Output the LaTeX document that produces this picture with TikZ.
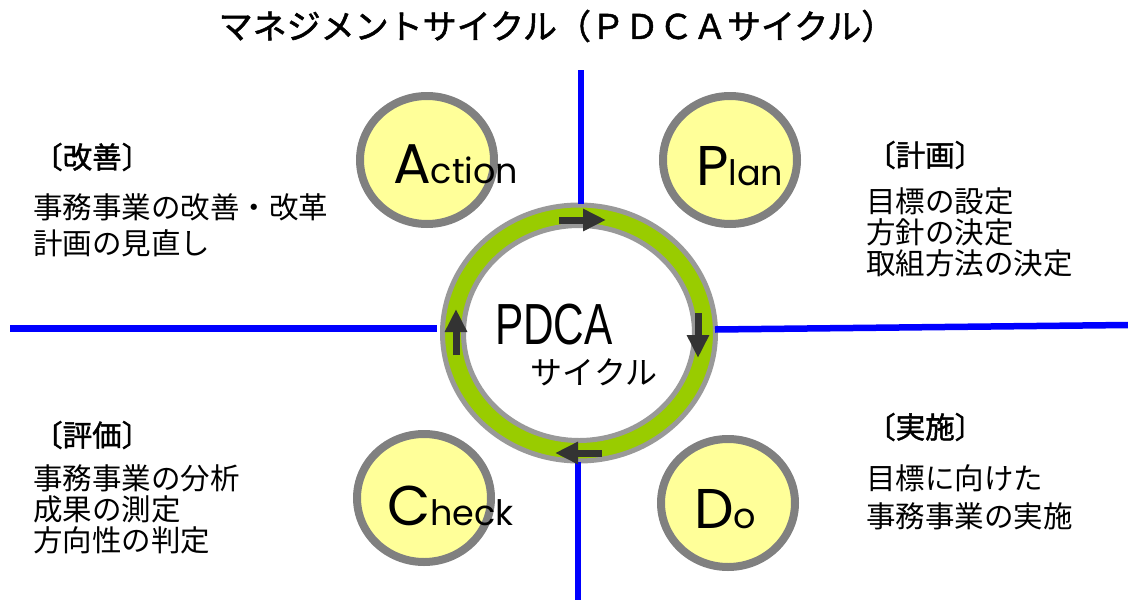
\documentclass[tikz,border=0pt]{standalone}
\usepackage{fontspec}
\setmainfont{Noto Sans CJK JP}
\newfontfamily\cjk{Noto Sans CJK JP}
\newfontfamily\cjkb[FakeBold=1.5]{Noto Sans CJK JP}
\newfontfamily\geo{Poppins}
\newfontfamily\lat{Liberation Sans}
\usetikzlibrary{shapes.geometric,arrows.meta}
\definecolor{ringgreen}{HTML}{99CC00}
\definecolor{ringgray}{HTML}{999999}
\definecolor{circgray}{HTML}{808080}
\definecolor{circfill}{HTML}{FFFF99}
\definecolor{arrgray}{HTML}{333333}
\definecolor{axisblue}{HTML}{0000FF}
\tikzset{
  phase/.style={ellipse, draw=circgray, line width=8pt, fill=circfill,
    minimum width=134pt, minimum height=128pt, inner sep=0pt},
  axisline/.style={draw=axisblue, line width=6.5pt},
  txt/.style={anchor=west, inner sep=0pt, font=\cjk\fontsize{29.5}{29.5}\selectfont},
  headtxt/.style={anchor=west, inner sep=0pt, font=\cjkb\fontsize{29.5}{29.5}\selectfont},
  word/.style={anchor=base west, inner sep=0pt, font=\geo},
  ringarrow/.style={draw=arrgray, line width=7pt, -{Triangle[length=23pt,width=21pt]}},
}
\newcommand{\BigLetter}[1]{{\fontsize{56}{56}\selectfont #1}}
\newcommand{\SmallPart}[1]{{\fontsize{35}{35}\selectfont #1}}
\begin{document}
\begin{tikzpicture}[x=1pt,y=-1pt]
\useasboundingbox (0,0) rectangle (1128,600);
% title
\node[inner sep=0pt, font=\cjkb\fontsize{34}{34}\selectfont] (title) at (557,26) {マネジメントサイクル（ＰＤＣＡサイクル）};
% central ring
\node[ellipse, draw=ringgray, line width=5pt, fill=ringgreen, minimum width=273pt, minimum height=256pt, inner sep=0pt] (ring) at (579,333) {};
\node[ellipse, draw=ringgray, line width=5pt, fill=white, minimum width=231pt, minimum height=215pt, inner sep=0pt] (hub) at (579,333) {};
% axes
\coordinate (topend) at (581,70);
\coordinate (topin) at (581,204);
\coordinate (botin) at (578,462);
\coordinate (botend) at (578,600);
\coordinate (leftend) at (10,328.5);
\coordinate (leftin) at (437,328.5);
\coordinate (rightin) at (715,329.5);
\coordinate (rightend) at (1128,325);
\draw[axisline] (topend) -- (topin);
\draw[axisline] (botin) -- (botend);
\draw[axisline] (leftend) -- (leftin);
\draw[axisline] (rightin) -- (rightend);
% ring arrows
\coordinate (a1s) at (559,220); \coordinate (a1e) at (606,220);
\coordinate (a2s) at (698,313); \coordinate (a2e) at (698,358);
\coordinate (a3s) at (602,453); \coordinate (a3e) at (555,453);
\coordinate (a4s) at (456,355); \coordinate (a4e) at (456,309);
\draw[ringarrow] (a1s) -- (a1e);
\draw[ringarrow] (a2s) -- (a2e);
\draw[ringarrow] (a3s) -- (a3e);
\draw[ringarrow] (a4s) -- (a4e);
% center text
\node[anchor=base, inner sep=0pt, font=\lat\fontsize{58}{58}\selectfont] (pdca) at (554,344) {\scalebox{0.73}[1]{PDCA}};
\node[inner sep=0pt, font=\cjk\fontsize{32}{32}\selectfont] (cyc) at (594,372) {サイクル};
% phase circles
\node[phase] (act) at (427,160) {};
\node[phase] (plan) at (730,160) {};
\node[phase] (chk) at (424,498) {};
\node[phase] (do) at (728,503) {};
\node[word] (actw) at (393,183) {\BigLetter{A}\SmallPart{ction}};
\node[word] (planw) at (696,185) {\BigLetter{P}\SmallPart{lan}};
\node[word] (chkw) at (387,525) {\BigLetter{C}\SmallPart{heck}};
\node[word] (dow) at (694,528) {\BigLetter{D}\SmallPart{o}};
% texts: improvement
\node[headtxt] (h1) at (33,157) {〔改善〕};
\node[txt] (h1a) at (33,207) {事務事業の改善・改革};
\node[txt] (h1b) at (33,243) {計画の見直し};
% plan
\node[headtxt] (h2) at (866,155) {〔計画〕};
\node[txt] (h2a) at (866,201) {目標の設定};
\node[txt] (h2b) at (866,232) {方針の決定};
\node[txt] (h2c) at (866,263) {取組方法の決定};
% check
\node[headtxt] (h3) at (33,435) {〔評価〕};
\node[txt] (h3a) at (33,478) {事務事業の分析};
\node[txt] (h3b) at (33,509) {成果の測定};
\node[txt] (h3c) at (33,540) {方向性の判定};
% do
\node[headtxt] (h4) at (866,427) {〔実施〕};
\node[txt] (h4a) at (866,478) {目標に向けた};
\node[txt] (h4b) at (866,516) {事務事業の実施};
\end{tikzpicture}
\end{document}
